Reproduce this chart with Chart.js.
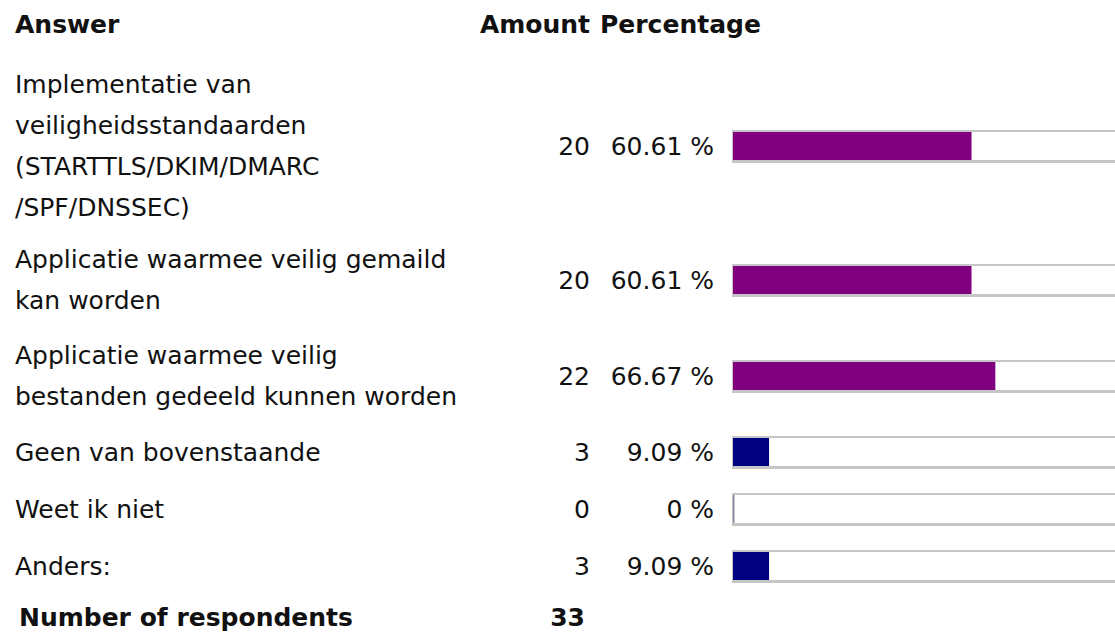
<!DOCTYPE html>
<html>
<head>
<meta charset="utf-8">
<script src="https://cdn.jsdelivr.net/npm/chart.js@4/dist/chart.umd.min.js"></script>
<style>
  html, body { margin: 0; padding: 0; background: #fff; overflow: hidden; width: 1115px; height: 637px; }
  body { font-family: "DejaVu Sans", Verdana, sans-serif; font-size: 25px; color: #111; }
  table { border-collapse: collapse; table-layout: fixed; width: 1125px; }
  td, th { padding: 7px 0; line-height: 41px; vertical-align: middle; white-space: nowrap; }
  th { font-weight: bold; text-align: left; padding: 4px 0 12px 0; }
  tr.first td { padding-bottom: 4px; }
  tr.single td { padding-top: 8px; padding-bottom: 8px; }
  .a { padding-left: 15px; }
  .n { text-align: right; padding-right: 8px; }
  .p { text-align: right; padding-right: 8px; }
  th.p { text-align: left; padding-left: 2px; padding-right: 0; }
  .b { padding-left: 10px; line-height: 0; }
  .b canvas { display: block; }
  tr.foot td { font-weight: bold; padding-top: 2px; padding-bottom: 4px; }
  tr.foot td.a { padding-left: 19px; }
  tr.foot td.n { padding-right: 13px; }
</style>
</head>
<body>
<table id="tbl">
  <colgroup><col style="width:470px"><col style="width:128px"><col style="width:124px"><col style="width:403px"></colgroup>
  <tbody id="tb"></tbody>
</table>
<script>
// ---- data ----
const headers = ["Answer", "Amount", "Percentage"];
const answers = [
  ["Implementatie van", "veiligheidsstandaarden", "(STARTTLS/DKIM/DMARC", "/SPF/DNSSEC)"],
  ["Applicatie waarmee veilig gemaild", "kan worden"],
  ["Applicatie waarmee veilig", "bestanden gedeeld kunnen worden"],
  ["Geen van bovenstaande"],
  ["Weet ik niet"],
  ["Anders:"]
];
const amounts = [20, 20, 22, 3, 0, 3];
const percentages = [60.61, 60.61, 66.67, 9.09, 0, 9.09];
const footerLabel = "Number of respondents";
const respondents = 33;

// ---- styles ----
const HIGH_COLOR = "#800080";
const LOW_COLOR = "#000080";
const FRAME_COLOR = "#c6c6c6";

const framePlugin = {
  id: "frame",
  beforeDatasetsDraw(chart) {
    const ctx = chart.ctx;
    const w = chart.width, h = chart.height;
    ctx.save();
    ctx.fillStyle = FRAME_COLOR;
    ctx.fillRect(0, 0, w, 2);
    ctx.fillRect(0, h - 3, w, 3);
    ctx.fillRect(0, 0, 3, h);
    ctx.restore();
  }
};

const tb = document.getElementById("tb");
function addCell(tr, tag, cls, text, extra) {
  const c = document.createElement(tag);
  c.className = cls;
  if (text !== undefined) c.textContent = text;
  if (extra) for (const k in extra) c.setAttribute(k, extra[k]);
  tr.appendChild(c);
  return c;
}

// header
const hr = document.createElement("tr");
addCell(hr, "th", "a", headers[0]);
addCell(hr, "th", "n", headers[1]);
addCell(hr, "th", "p", headers[2], { colspan: 2 });
hr.querySelector("th.n").style.textAlign = "right";
tb.appendChild(hr);

answers.forEach((lines, i) => {
  const tr = document.createElement("tr");
  if (i === 0) tr.classList.add("first");
  if (lines.length === 1) tr.classList.add("single");
  const a = addCell(tr, "td", "a");
  lines.forEach((ln, k) => {
    if (k) a.appendChild(document.createElement("br"));
    a.appendChild(document.createTextNode(ln));
  });
  addCell(tr, "td", "n", String(amounts[i]));
  addCell(tr, "td", "p", percentages[i] + " %");
  const b = addCell(tr, "td", "b");
  const cv = document.createElement("canvas");
  cv.width = 394; cv.height = 33;
  cv.style.width = "394px"; cv.style.height = "33px";
  b.appendChild(cv);
  tb.appendChild(tr);

  new Chart(cv, {
    type: "bar",
    data: {
      labels: [lines.join(" ")],
      datasets: [{
        data: [percentages[i]],
        backgroundColor: percentages[i] >= 50 ? HIGH_COLOR : LOW_COLOR,
        borderWidth: 0,
        barPercentage: 1,
        categoryPercentage: 1
      }]
    },
    options: {
      indexAxis: "y",
      responsive: false,
      animation: false,
      devicePixelRatio: 1,
      layout: { padding: { left: 1, right: 0, top: 2, bottom: 3 } },
      scales: {
        x: { display: false, min: 0, max: 100 },
        y: { display: false }
      },
      plugins: { legend: { display: false }, tooltip: { enabled: false } }
    },
    plugins: [framePlugin]
  });
});

// footer
const fr = document.createElement("tr");
fr.className = "foot";
addCell(fr, "td", "a", footerLabel);
addCell(fr, "td", "n", String(respondents));
addCell(fr, "td", "p", "");
addCell(fr, "td", "b", "");
tb.appendChild(fr);
</script>
</body>
</html>
